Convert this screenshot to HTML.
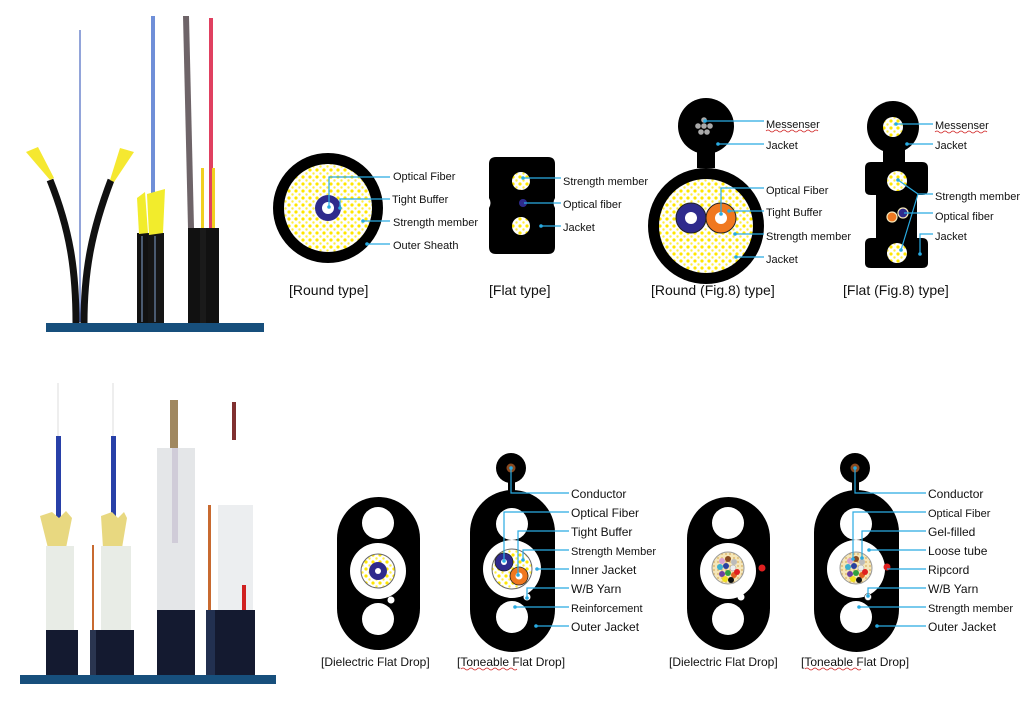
<!DOCTYPE html>
<html><head><meta charset="utf-8"><style>
html,body{margin:0;padding:0;background:#fff;width:1022px;height:728px;overflow:hidden}
svg{display:block}
text{font-family:"Liberation Sans",sans-serif;fill:#111}
.l{font-size:11px}
.m{font-size:12px}
.c{font-size:14px}
.ld{stroke:#29abe2;stroke-width:1.2;fill:none}
.dt{fill:#29abe2}
</style></head><body>
<svg width="1022" height="728" viewBox="0 0 1022 728" xmlns="http://www.w3.org/2000/svg">
<defs>
<pattern id="yd" width="7" height="7" patternUnits="userSpaceOnUse">
<rect width="7" height="7" fill="#fff"/><circle cx="2" cy="2" r="1.6" fill="#ffe600"/><circle cx="5.5" cy="5.5" r="1.2" fill="#ffef40"/>
</pattern>
<pattern id="bd" width="4" height="4" patternUnits="userSpaceOnUse">
<rect width="4" height="4" fill="#f5e6b8"/><circle cx="2" cy="2" r="0.9" fill="#d8b060"/>
</pattern>
</defs>

<!-- ===== Top photo ===== -->
<rect x="46" y="323" width="218" height="9" fill="#174f7c"/>
<line x1="80" y1="30" x2="80" y2="322" stroke="#4a68c0" stroke-width="1.2"/>
<path d="M76 323 C76 270 70 230 50 180" stroke="#111" stroke-width="7" fill="none"/>
<path d="M84 323 C84 270 92 230 111 180" stroke="#111" stroke-width="7" fill="none"/>
<path d="M50 180 L26 152 L38 147 L54 178Z" fill="#f5e830"/>
<path d="M110 180 L120 148 L134 152 L114 182Z" fill="#f5e830"/>
<rect x="137" y="233" width="14" height="90" fill="#111"/>
<rect x="148" y="233" width="16" height="90" fill="#151515"/>
<rect x="141" y="236" width="2" height="86" fill="#4a5a70"/>
<rect x="154" y="236" width="2" height="86" fill="#4a5a70"/>
<rect x="151" y="16" width="4" height="178" fill="#6f8fd8"/>
<path d="M137 198 L145 192 L148 233 L139 234Z" fill="#f2ec2c"/>
<path d="M147 194 L165 189 L163 233 L149 235Z" fill="#f2ec2c"/>
<rect x="188" y="228" width="12" height="95" fill="#111"/>
<rect x="200" y="228" width="6" height="95" fill="#1a1a1a"/>
<rect x="206" y="228" width="13" height="95" fill="#111"/>
<path d="M183 16 L189 16 L194 228 L188 228Z" fill="#6e6468"/>
<rect x="209" y="18" width="4" height="210" fill="#e04060"/>
<rect x="201" y="168" width="3" height="60" fill="#f0d020"/>
<rect x="212" y="168" width="3" height="60" fill="#f0d020"/>

<!-- ===== Round type ===== -->
<circle cx="328" cy="208" r="55" fill="#000"/>
<circle cx="328" cy="208" r="44" fill="url(#yd)"/>
<circle cx="328" cy="208" r="13" fill="#2e2a8c"/>
<circle cx="328" cy="208" r="6" fill="#fff"/>
<path class="ld" d="M329 207 V177 H390"/><circle class="dt" cx="329" cy="207" r="1.8"/>
<path class="ld" d="M340 208 V199 H390"/><circle class="dt" cx="340" cy="208" r="1.8"/>
<line class="ld" x1="363" y1="221" x2="390" y2="221"/><circle class="dt" cx="363" cy="221" r="1.8"/>
<line class="ld" x1="367" y1="244" x2="390" y2="244"/><circle class="dt" cx="367" cy="244" r="1.8"/>
<text class="l" x="393" y="180">Optical  Fiber</text>
<text class="l" x="392" y="203">Tight Buffer</text>
<text class="l" x="393" y="226">Strength  member</text>
<text class="l" x="393" y="249">Outer  Sheath</text>
<text class="c" x="289" y="295">[Round type]</text>

<!-- ===== Flat type ===== -->
<path d="M496 157 H548 Q555 157 555 164 V198 Q552 203 555 208 V247 Q555 254 548 254 H496 Q489 254 489 247 V208 Q492 203 489 198 V164 Q489 157 496 157Z" fill="#000"/>
<circle cx="521" cy="181" r="9" fill="url(#yd)"/>
<circle cx="521" cy="226" r="9" fill="url(#yd)"/>
<circle cx="523" cy="203" r="4" fill="#2e2a8c"/>
<line class="ld" x1="523" y1="178" x2="561" y2="178"/><circle class="dt" cx="523" cy="178" r="1.8"/>
<line class="ld" x1="524" y1="203" x2="561" y2="203"/>
<line class="ld" x1="541" y1="226" x2="561" y2="226"/><circle class="dt" cx="541" cy="226" r="1.8"/>
<text class="l" x="563" y="185">Strength  member</text>
<text class="l" x="563" y="208">Optical  fiber</text>
<text class="l" x="563" y="231">Jacket</text>
<text class="c" x="489" y="295">[Flat type]</text>

<!-- ===== Round Fig.8 ===== -->
<circle cx="706" cy="126" r="28" fill="#000"/>
<rect x="697" y="148" width="18" height="20" fill="#000"/>
<circle cx="706" cy="226" r="58" fill="#000"/>
<circle cx="706" cy="226" r="47" fill="url(#yd)"/>
<g fill="#aaa"><circle cx="704" cy="120" r="2.8"/><circle cx="698" cy="126" r="2.8"/><circle cx="704" cy="126" r="2.8"/><circle cx="710" cy="126" r="2.8"/><circle cx="701" cy="132" r="2.8"/><circle cx="707" cy="132" r="2.8"/><circle cx="713" cy="120" r="0"/></g>
<circle cx="691" cy="218" r="15" fill="#2e2a8c" stroke="#222" stroke-width="1"/>
<circle cx="691" cy="218" r="6" fill="#fff"/>
<circle cx="721" cy="218" r="15" fill="#f07820" stroke="#222" stroke-width="1"/>
<circle cx="721" cy="218" r="6" fill="#fff"/>
<line class="ld" x1="705" y1="121" x2="764" y2="121"/><circle class="dt" cx="705" cy="121" r="1.8"/>
<line class="ld" x1="718" y1="144" x2="764" y2="144"/><circle class="dt" cx="718" cy="144" r="1.8"/>
<path class="ld" d="M721 214 V188 H764"/><circle class="dt" cx="721" cy="214" r="1.8"/>
<line class="ld" x1="729" y1="211" x2="764" y2="211"/><circle class="dt" cx="729" cy="211" r="1.8"/>
<line class="ld" x1="735" y1="234" x2="764" y2="234"/><circle class="dt" cx="735" cy="234" r="1.8"/>
<line class="ld" x1="736" y1="257" x2="764" y2="257"/><circle class="dt" cx="736" cy="257" r="1.8"/>
<text class="l" x="766" y="128">Messenser</text>
<path d="M766 131 q2 -2 4 0 t4 0 t4 0 t4 0 t4 0 t4 0 t4 0 t4 0 t4 0 t4 0 t4 0 t4 0 t4 0" stroke="#d02020" stroke-width="0.8" fill="none"/>
<text class="l" x="766" y="149">Jacket</text>
<text class="l" x="766" y="194">Optical  Fiber</text>
<text class="l" x="766" y="216">Tight Buffer</text>
<text class="l" x="766" y="240">Strength  member</text>
<text class="l" x="766" y="263">Jacket</text>
<text class="c" x="651" y="295">[Round (Fig.8) type]</text>

<!-- ===== Flat Fig.8 ===== -->
<circle cx="893" cy="127" r="26" fill="#000"/>
<rect x="883" y="148" width="22" height="16" fill="#000"/>
<path d="M871 162 H922 Q928 162 928 168 V190 Q928 195 922 195 H917 V238 H922 Q928 238 928 244 V263 Q928 268 922 268 H871 Q865 268 865 263 V244 Q865 238 871 238 H876 V195 H871 Q865 195 865 190 V168 Q865 162 871 162Z" fill="#000"/>
<circle cx="893" cy="127" r="10" fill="url(#yd)"/>
<circle cx="897" cy="181" r="10" fill="url(#yd)"/>
<circle cx="897" cy="253" r="10" fill="url(#yd)"/>
<circle cx="892" cy="217" r="5" fill="#f07820" stroke="#f5e6b8" stroke-width="1.2"/>
<circle cx="903" cy="213" r="5" fill="#2e2a8c" stroke="#f5e6b8" stroke-width="1.2"/>
<line class="ld" x1="896" y1="124" x2="933" y2="124"/><circle class="dt" cx="896" cy="124" r="1.8"/>
<line class="ld" x1="907" y1="144" x2="933" y2="144"/><circle class="dt" cx="907" cy="144" r="1.8"/>
<path class="ld" d="M898 180 L918 194 H933 M918 194 L901 250"/><circle class="dt" cx="898" cy="180" r="1.8"/><circle class="dt" cx="901" cy="250" r="1.8"/>
<line class="ld" x1="904" y1="213" x2="933" y2="213"/>
<path class="ld" d="M920 254 V234 H933"/><circle class="dt" cx="920" cy="254" r="1.8"/>
<text class="l" x="935" y="129">Messenser</text>
<path d="M935 132 q2 -2 4 0 t4 0 t4 0 t4 0 t4 0 t4 0 t4 0 t4 0 t4 0 t4 0 t4 0 t4 0 t4 0" stroke="#d02020" stroke-width="0.8" fill="none"/>
<text class="l" x="935" y="149">Jacket</text>
<text class="l" x="935" y="200">Strength member</text>
<text class="l" x="935" y="220">Optical  fiber</text>
<text class="l" x="935" y="240">Jacket</text>
<text class="c" x="843" y="295">[Flat (Fig.8) type]</text>

<!-- ===== Bottom photo ===== -->
<rect x="20" y="675" width="256" height="9" fill="#174f7c"/>
<line x1="58" y1="383" x2="58" y2="440" stroke="#ddd" stroke-width="1"/>
<rect x="56" y="436" width="5" height="84" fill="#2840a8"/>
<path d="M48 548 L40 516 L52 512 L59 518 L66 511 L72 518 L66 548Z" fill="#e8d880"/>
<rect x="46" y="546" width="28" height="86" fill="#e8ece6"/>
<rect x="46" y="630" width="32" height="45" fill="#141a30"/>
<rect x="92" y="545" width="2" height="85" fill="#c86a30"/>
<rect x="90" y="630" width="6" height="45" fill="#2a3550"/>
<line x1="113" y1="383" x2="113" y2="440" stroke="#ddd" stroke-width="1"/>
<rect x="111" y="436" width="5" height="84" fill="#2840a8"/>
<path d="M103 548 L101 516 L112 512 L118 518 L124 512 L127 518 L122 548Z" fill="#e8d880"/>
<rect x="101" y="546" width="30" height="86" fill="#e8ece6"/>
<rect x="96" y="630" width="38" height="45" fill="#141a30"/>
<rect x="170" y="400" width="8" height="50" fill="#a08860"/>
<rect x="157" y="448" width="38" height="95" fill="#e4e6e8"/>
<rect x="172" y="448" width="6" height="95" fill="#d0ccd8"/>
<rect x="157" y="610" width="38" height="65" fill="#141a30"/>
<rect x="157" y="543" width="38" height="67" fill="#e4e6e8"/>
<rect x="232" y="402" width="4" height="38" fill="#803030"/>
<rect x="208" y="505" width="3" height="110" fill="#c86a30"/>
<rect x="206" y="610" width="10" height="65" fill="#223050"/>
<rect x="218" y="505" width="35" height="108" fill="#eceef0"/>
<rect x="242" y="585" width="4" height="25" fill="#d02020"/>
<rect x="215" y="610" width="40" height="65" fill="#141a30"/>

<!-- ===== Dielectric Flat Drop 1 ===== -->
<rect x="337" y="497" width="83" height="153" rx="41.5" fill="#000"/>
<circle cx="378" cy="523" r="16" fill="#fff"/>
<circle cx="378" cy="571" r="28" fill="#fff"/>
<circle cx="378" cy="571" r="17" fill="url(#yd)" stroke="#666" stroke-width="1"/>
<circle cx="378" cy="571" r="9" fill="#2e2a8c"/>
<circle cx="378" cy="571" r="3" fill="#fff"/>
<circle cx="378" cy="619" r="16" fill="#fff"/>
<circle cx="391" cy="600" r="3.5" fill="#fff"/>
<text class="m" x="321" y="666">[Dielectric  Flat  Drop]</text>

<!-- ===== Toneable Flat Drop 1 ===== -->
<circle cx="511" cy="468" r="15" fill="#000"/>
<circle cx="511" cy="468" r="4.5" fill="#8a4a20"/>
<rect x="508" y="478" width="7" height="16" fill="#000"/>
<rect x="470" y="490" width="85" height="162" rx="42.5" fill="#000"/>
<circle cx="512" cy="524" r="16" fill="#fff"/>
<circle cx="512" cy="569" r="29" fill="#fff"/>
<circle cx="512" cy="569" r="20" fill="url(#yd)" stroke="#666" stroke-width="1"/>
<circle cx="504" cy="562" r="9" fill="#2e2a8c" stroke="#222" stroke-width="0.8"/>
<circle cx="504" cy="562" r="3" fill="#fff"/>
<circle cx="519" cy="576" r="9" fill="#f07820" stroke="#222" stroke-width="0.8"/>
<circle cx="519" cy="576" r="3.5" fill="#fff"/>
<circle cx="512" cy="617" r="16" fill="#fff"/>
<circle cx="527" cy="597" r="3.5" fill="#fff"/>
<path class="ld" d="M511 468 V493 H569"/><circle class="dt" cx="511" cy="468" r="1.8"/>
<path class="ld" d="M504 561 V512 H569"/><circle class="dt" cx="504" cy="561" r="1.8"/>
<path class="ld" d="M518 575 V531 H569"/><circle class="dt" cx="518" cy="575" r="1.8"/>
<path class="ld" d="M523 560 V550 H569"/><circle class="dt" cx="523" cy="560" r="1.8"/>
<line class="ld" x1="537" y1="569" x2="569" y2="569"/><circle class="dt" cx="537" cy="569" r="1.8"/>
<path class="ld" d="M527 598 V588 H569"/><circle class="dt" cx="527" cy="598" r="1.8"/>
<line class="ld" x1="515" y1="607" x2="569" y2="607"/><circle class="dt" cx="515" cy="607" r="1.8"/>
<line class="ld" x1="536" y1="626" x2="569" y2="626"/><circle class="dt" cx="536" cy="626" r="1.8"/>
<text class="m" x="571" y="498">Conductor</text>
<text class="m" x="571" y="517">Optical Fiber</text>
<text class="m" x="571" y="536">Tight Buffer</text>
<text class="l" x="571" y="555">Strength  Member</text>
<text class="m" x="571" y="574">Inner Jacket</text>
<text class="m" x="571" y="593">W/B  Yarn</text>
<text class="l" x="571" y="612">Reinforcement</text>
<text class="m" x="571" y="631">Outer Jacket</text>
<text class="m" x="457" y="666">[Toneable  Flat  Drop]</text>
<path d="M461 669 q2 -2 4 0 t4 0 t4 0 t4 0 t4 0 t4 0 t4 0 t4 0 t4 0 t4 0 t4 0 t4 0 t4 0 t4 0" stroke="#d02020" stroke-width="0.8" fill="none"/>

<!-- ===== Dielectric Flat Drop 2 ===== -->
<rect x="687" y="497" width="83" height="153" rx="41.5" fill="#000"/>
<circle cx="728" cy="523" r="16" fill="#fff"/>
<circle cx="728" cy="571" r="28" fill="#fff"/>
<circle cx="728" cy="568" r="16" fill="url(#bd)" stroke="#999" stroke-width="1"/>
<g>
<circle cx="722" cy="561" r="3" fill="#d8a0d0"/><circle cx="728" cy="559" r="3" fill="#8a4a20"/><circle cx="734" cy="562" r="3" fill="#bbb"/>
<circle cx="720" cy="567" r="3" fill="#3cb0d0"/><circle cx="726" cy="566" r="3" fill="#2a40a0"/><circle cx="733" cy="568" r="3" fill="#eee" stroke="#999" stroke-width=".5"/>
<circle cx="722" cy="574" r="3" fill="#6a40a0"/><circle cx="728" cy="573" r="3" fill="#30a040"/><circle cx="734" cy="575" r="3" fill="#e06020"/>
<circle cx="725" cy="579" r="3" fill="#f0e020"/><circle cx="731" cy="580" r="3" fill="#111"/><circle cx="737" cy="572" r="3" fill="#e02020"/>
</g>
<circle cx="728" cy="619" r="16" fill="#fff"/>
<circle cx="741" cy="597" r="3.5" fill="#fff"/>
<circle cx="762" cy="568" r="3.5" fill="#e02020"/>
<text class="m" x="669" y="666">[Dielectric  Flat  Drop]</text>

<!-- ===== Toneable Flat Drop 2 ===== -->
<circle cx="855" cy="468" r="15" fill="#000"/>
<circle cx="855" cy="468" r="4.5" fill="#8a4a20"/>
<rect x="852" y="478" width="7" height="16" fill="#000"/>
<rect x="814" y="490" width="85" height="162" rx="42.5" fill="#000"/>
<circle cx="856" cy="524" r="16" fill="#fff"/>
<circle cx="856" cy="569" r="29" fill="#fff"/>
<circle cx="856" cy="568" r="16" fill="url(#bd)" stroke="#999" stroke-width="1"/>
<g>
<circle cx="850" cy="561" r="3" fill="#d8a0d0"/><circle cx="856" cy="559" r="3" fill="#8a4a20"/><circle cx="862" cy="562" r="3" fill="#bbb"/>
<circle cx="848" cy="567" r="3" fill="#3cb0d0"/><circle cx="854" cy="566" r="3" fill="#2a40a0"/><circle cx="861" cy="568" r="3" fill="#eee" stroke="#999" stroke-width=".5"/>
<circle cx="850" cy="574" r="3" fill="#6a40a0"/><circle cx="856" cy="573" r="3" fill="#30a040"/><circle cx="862" cy="575" r="3" fill="#e06020"/>
<circle cx="853" cy="579" r="3" fill="#f0e020"/><circle cx="859" cy="580" r="3" fill="#111"/><circle cx="865" cy="572" r="3" fill="#e02020"/>
</g>
<circle cx="856" cy="617" r="16" fill="#fff"/>
<circle cx="868" cy="597" r="3.5" fill="#fff" stroke="#333" stroke-width="0.6"/>
<circle cx="887" cy="567" r="3.5" fill="#e02020"/>
<path class="ld" d="M855 468 V493 H926"/><circle class="dt" cx="855" cy="468" r="1.8"/>
<path class="ld" d="M853 559 V512 H926"/><circle class="dt" cx="853" cy="559" r="1.8"/>
<path class="ld" d="M862 558 V531 H926"/><circle class="dt" cx="862" cy="558" r="1.8"/>
<line class="ld" x1="869" y1="550" x2="926" y2="550"/><circle class="dt" cx="869" cy="550" r="1.8"/>
<line class="ld" x1="887" y1="569" x2="926" y2="569"/>
<path class="ld" d="M868 596 V588 H926"/><circle class="dt" cx="868" cy="596" r="1.8"/>
<line class="ld" x1="859" y1="607" x2="926" y2="607"/><circle class="dt" cx="859" cy="607" r="1.8"/>
<line class="ld" x1="877" y1="626" x2="926" y2="626"/><circle class="dt" cx="877" cy="626" r="1.8"/>
<text class="m" x="928" y="498">Conductor</text>
<text class="l" x="928" y="517">Optical  Fiber</text>
<text class="m" x="928" y="536">Gel-filled</text>
<text class="m" x="928" y="555">Loose tube</text>
<text class="m" x="928" y="574">Ripcord</text>
<text class="m" x="928" y="593">W/B  Yarn</text>
<text class="l" x="928" y="612">Strength  member</text>
<text class="m" x="928" y="631">Outer Jacket</text>
<text class="m" x="801" y="666">[Toneable  Flat  Drop]</text>
<path d="M805 669 q2 -2 4 0 t4 0 t4 0 t4 0 t4 0 t4 0 t4 0 t4 0 t4 0 t4 0 t4 0 t4 0 t4 0 t4 0" stroke="#d02020" stroke-width="0.8" fill="none"/>
</svg>
</body></html>
